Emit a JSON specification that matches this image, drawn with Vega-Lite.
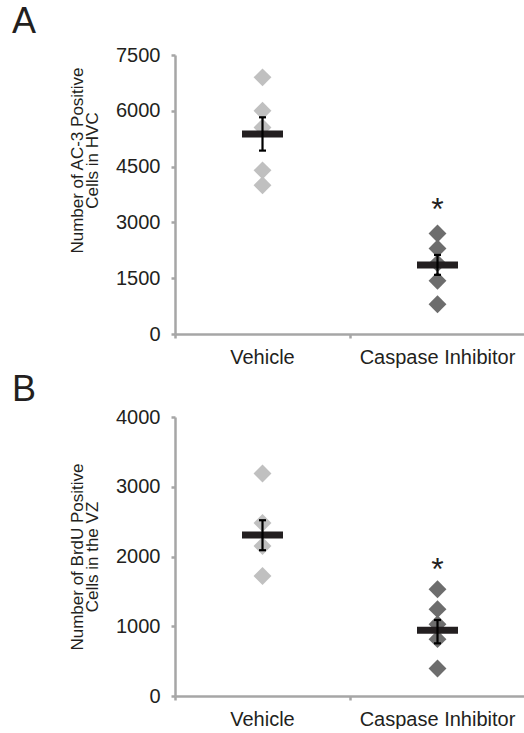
{
  "$schema": "https://vega.github.io/schema/vega-lite/v6.json",
  "padding": {"left": 12, "top": 4, "right": 0, "bottom": 0},
  "background": "white",
  "config": {
    "font": "Liberation Sans",
    "view": {"stroke": null},
    "axis": {
      "labelFont": "Liberation Sans",
      "titleFont": "Liberation Sans",
      "labelColor": "#231f20",
      "titleColor": "#231f20",
      "titleFontWeight": "normal",
      "labelFontSize": 20,
      "domainColor": "#a6a6a6",
      "tickColor": "#a6a6a6",
      "domainWidth": 2.5,
      "tickWidth": 2.5,
      "tickSize": 4,
      "grid": false
    },
    "title": {"font": "Liberation Sans", "fontWeight": "normal", "fontSize": 36, "color": "#231f20", "anchor": "start", "frame": "group", "baseline": "alphabetic", "dx": -163}
  },
  "datasets": {
    "points": [
      {"panel": "A", "group": "Vehicle", "value": 6900},
      {"panel": "A", "group": "Vehicle", "value": 6000},
      {"panel": "A", "group": "Vehicle", "value": 5550},
      {"panel": "A", "group": "Vehicle", "value": 4400},
      {"panel": "A", "group": "Vehicle", "value": 4000},
      {"panel": "A", "group": "Caspase Inhibitor", "value": 2700},
      {"panel": "A", "group": "Caspase Inhibitor", "value": 2300},
      {"panel": "A", "group": "Caspase Inhibitor", "value": 1900},
      {"panel": "A", "group": "Caspase Inhibitor", "value": 1430},
      {"panel": "A", "group": "Caspase Inhibitor", "value": 800},
      {"panel": "B", "group": "Vehicle", "value": 3190},
      {"panel": "B", "group": "Vehicle", "value": 2480},
      {"panel": "B", "group": "Vehicle", "value": 2150},
      {"panel": "B", "group": "Vehicle", "value": 1720},
      {"panel": "B", "group": "Caspase Inhibitor", "value": 1530},
      {"panel": "B", "group": "Caspase Inhibitor", "value": 1245},
      {"panel": "B", "group": "Caspase Inhibitor", "value": 1030},
      {"panel": "B", "group": "Caspase Inhibitor", "value": 815},
      {"panel": "B", "group": "Caspase Inhibitor", "value": 395}
    ],
    "summary": [
      {"panel": "A", "group": "Vehicle", "mean": 5375, "lo": 4930, "hi": 5825, "sig": ""},
      {"panel": "A", "group": "Caspase Inhibitor", "mean": 1855, "lo": 1590, "hi": 2125, "sig": "*", "sigPos": 3520},
      {"panel": "B", "group": "Vehicle", "mean": 2308, "lo": 2090, "hi": 2520, "sig": ""},
      {"panel": "B", "group": "Caspase Inhibitor", "mean": 942, "lo": 755, "hi": 1090, "sig": "*", "sigPos": 1900}
    ]
  },
  "spacing": 4,
  "vconcat": [
    {
      "title": {"text": "A", "offset": 4},
      "width": 350,
      "height": 279,
      "encoding": {
        "x": {"field": "group", "type": "nominal", "scale": {"domain": ["Vehicle", "Caspase Inhibitor"], "paddingInner": 0, "paddingOuter": 0},
              "axis": {"title": null, "labelAngle": 0, "bandPosition": 0, "labelPadding": 9}}
      },
      "layer": [
        {
          "data": {"name": "points"},
          "transform": [{"filter": "datum.panel === 'A'"}],
          "mark": {"type": "point", "shape": "diamond", "filled": true, "size": 320, "opacity": 1},
          "encoding": {
            "y": {"field": "value", "type": "quantitative", "scale": {"domain": [0, 7500], "nice": false},
                  "axis": {"values": [0, 1500, 3000, 4500, 6000, 7500], "format": "d", "title": ["Number of AC-3 Positive", "Cells in HVC"], "titleFontSize": 17, "titleLineHeight": 15, "titlePadding": 14, "titleY": 105, "labelPadding": 11}},
            "color": {"field": "group", "type": "nominal", "scale": {"domain": ["Vehicle", "Caspase Inhibitor"], "range": ["#c0c0c0", "#6d6d6d"]}, "legend": null}
          }
        },
        {
          "data": {"name": "summary"},
          "transform": [{"filter": "datum.panel === 'A'"}],
          "mark": {"type": "tick", "size": 41, "thickness": 7, "color": "#231f20", "opacity": 1},
          "encoding": {"y": {"field": "mean", "type": "quantitative"}}
        },
        {
          "data": {"name": "summary"},
          "transform": [{"filter": "datum.panel === 'A'"}],
          "mark": {"type": "rule", "strokeWidth": 2.2, "color": "#000000"},
          "encoding": {"y": {"field": "lo", "type": "quantitative"}, "y2": {"field": "hi"}}
        },
        {
          "data": {"name": "summary"},
          "transform": [{"filter": "datum.panel === 'A'"}],
          "mark": {"type": "tick", "size": 7, "thickness": 2.2, "color": "#000000", "opacity": 1},
          "encoding": {"y": {"field": "lo", "type": "quantitative"}}
        },
        {
          "data": {"name": "summary"},
          "transform": [{"filter": "datum.panel === 'A'"}],
          "mark": {"type": "tick", "size": 7, "thickness": 2.2, "color": "#000000", "opacity": 1},
          "encoding": {"y": {"field": "hi", "type": "quantitative"}}
        },
        {
          "data": {"name": "summary"},
          "transform": [{"filter": "datum.panel === 'A' && datum.sig !== ''"}],
          "mark": {"type": "text", "fontSize": 32, "color": "#231f20", "baseline": "middle", "align": "center", "dy": 7},
          "encoding": {"y": {"field": "sigPos", "type": "quantitative"}, "text": {"field": "sig"}}
        }
      ]
    },
    {
      "title": {"text": "B", "offset": -1.5},
      "width": 350,
      "height": 279,
      "encoding": {
        "x": {"field": "group", "type": "nominal", "scale": {"domain": ["Vehicle", "Caspase Inhibitor"], "paddingInner": 0, "paddingOuter": 0},
              "axis": {"title": null, "labelAngle": 0, "bandPosition": 0, "labelPadding": 9}}
      },
      "layer": [
        {
          "data": {"name": "points"},
          "transform": [{"filter": "datum.panel === 'B'"}],
          "mark": {"type": "point", "shape": "diamond", "filled": true, "size": 320, "opacity": 1},
          "encoding": {
            "y": {"field": "value", "type": "quantitative", "scale": {"domain": [0, 4000], "nice": false},
                  "axis": {"values": [0, 1000, 2000, 3000, 4000], "format": "d", "title": ["Number of BrdU Positive", "Cells in the VZ"], "titleFontSize": 17, "titleLineHeight": 15, "titlePadding": 14, "labelPadding": 11}},
            "color": {"field": "group", "type": "nominal", "scale": {"domain": ["Vehicle", "Caspase Inhibitor"], "range": ["#c0c0c0", "#6d6d6d"]}, "legend": null}
          }
        },
        {
          "data": {"name": "summary"},
          "transform": [{"filter": "datum.panel === 'B'"}],
          "mark": {"type": "tick", "size": 41, "thickness": 7, "color": "#231f20", "opacity": 1},
          "encoding": {"y": {"field": "mean", "type": "quantitative"}}
        },
        {
          "data": {"name": "summary"},
          "transform": [{"filter": "datum.panel === 'B'"}],
          "mark": {"type": "rule", "strokeWidth": 2.2, "color": "#000000"},
          "encoding": {"y": {"field": "lo", "type": "quantitative"}, "y2": {"field": "hi"}}
        },
        {
          "data": {"name": "summary"},
          "transform": [{"filter": "datum.panel === 'B'"}],
          "mark": {"type": "tick", "size": 7, "thickness": 2.2, "color": "#000000", "opacity": 1},
          "encoding": {"y": {"field": "lo", "type": "quantitative"}}
        },
        {
          "data": {"name": "summary"},
          "transform": [{"filter": "datum.panel === 'B'"}],
          "mark": {"type": "tick", "size": 7, "thickness": 2.2, "color": "#000000", "opacity": 1},
          "encoding": {"y": {"field": "hi", "type": "quantitative"}}
        },
        {
          "data": {"name": "summary"},
          "transform": [{"filter": "datum.panel === 'B' && datum.sig !== ''"}],
          "mark": {"type": "text", "fontSize": 32, "color": "#231f20", "baseline": "middle", "align": "center", "dy": 7},
          "encoding": {"y": {"field": "sigPos", "type": "quantitative"}, "text": {"field": "sig"}}
        }
      ]
    }
  ]
}
